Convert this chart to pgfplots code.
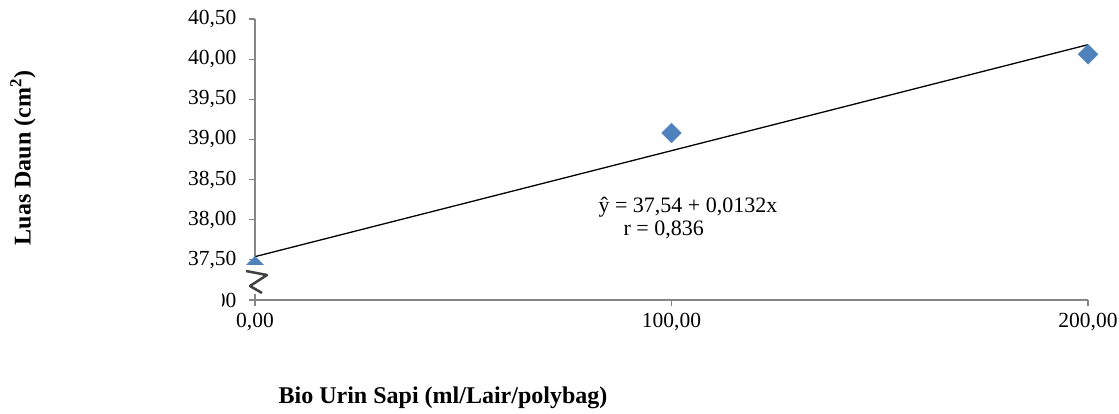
\documentclass[border=0pt]{standalone}
\usepackage{fontspec}
\setmainfont{Liberation Serif}
\usepackage{pgfplots}
\pgfplotsset{compat=1.18}
\definecolor{ptblue}{HTML}{4F81BD}
\definecolor{axgray}{HTML}{868686}
\begin{document}
\begin{tikzpicture}[x=1pt,y=1pt]
\useasboundingbox (0,0) rectangle (1119,413);
\begin{axis}[
  at={(255pt,113pt)}, anchor=south west,
  width=833pt, height=281pt, scale only axis,
  xmin=0, xmax=200, ymin=37, ymax=40.5,
  axis lines=left,
  axis line style={axgray, line width=1.2pt, -},
  xtick={0,100,200},
  xticklabels={{0,00},{100,00},{200,00}},
  ytick={37,37.5,38,38.5,39,39.5,40,40.5},
  yticklabels={{00},{37,50},{38,00},{38,50},{39,00},{39,50},{40,00},{40,50}},
  tick align=outside, major tick length=6pt,
  tick style={axgray, line width=1.2pt},
  ticklabel style={font=\fontsize{21.5}{24}\selectfont},
  yticklabel style={xshift=-9pt},
  xticklabel style={yshift=-4pt},
  clip=false,
]
\addplot[black, line width=1.3pt, no marks] coordinates {(0,37.54) (200,40.18)};
\addplot[only marks, mark=square*, mark size=7pt,
  mark options={rotate=45, fill=ptblue, draw=ptblue}]
  coordinates {(0,37.42) (100,39.08) (200,40.06)};
\end{axis}
% axis break symbol
\fill[white] (240,119) rectangle (272,148);
\fill[white] (208,102) rectangle (222,126);
\draw[black!75, line width=2.5pt, line join=round] (246,142) -- (267,138) -- (250,127) -- (262,120);
% texts
\node[anchor=west, font=\fontsize{22}{25}\selectfont] at (595,206) {ŷ = 37,54 + 0,0132x};
\node[anchor=west, font=\fontsize{22}{25}\selectfont] at (620,183) {r = 0,836};
\node[rotate=90, font=\fontsize{24}{27}\selectfont\bfseries] at (23,255) {Luas Daun (cm\textsuperscript{2})};
\node[font=\fontsize{24}{27}\selectfont\bfseries] at (443,15) {Bio Urin Sapi (ml/Lair/polybag)};
\end{tikzpicture}
\end{document}
